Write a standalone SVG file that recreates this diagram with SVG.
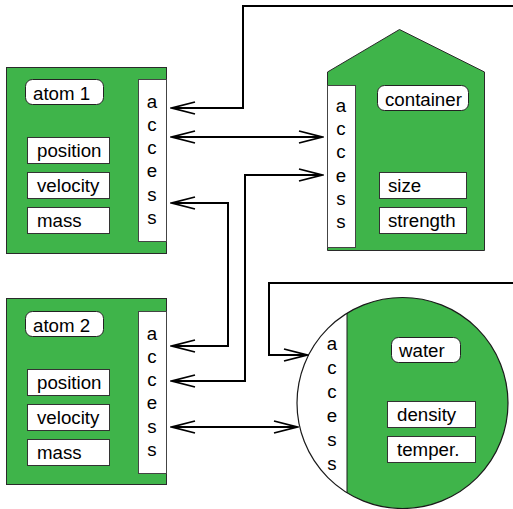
<svg xmlns="http://www.w3.org/2000/svg" width="513" height="509" viewBox="0 0 513 509">
  <style>
    .body { fill: #3fb44a; stroke: #2a2a2a; stroke-width: 1; }
    .strip { fill: #ffffff; stroke: #444444; stroke-width: 1; }
    .field { fill: #ffffff; stroke: #333333; stroke-width: 1; }
    .label { fill: #ffffff; stroke: #222222; stroke-width: 1; }
    text { font-family: "Liberation Sans", Arial, Helvetica, sans-serif; font-size: 18.7px; fill: #000000; }
    .acc { text-anchor: middle; }
    .wire { fill: none; stroke: #000000; stroke-width: 2; }
  </style>
  <defs>
    <marker id="arrow" markerUnits="userSpaceOnUse" viewBox="-26 -9 28 18" refX="0" refY="0" markerWidth="28" markerHeight="18" orient="auto-start-reverse">
      <path d="M-23,-6 L0,0 L-23,6" fill="none" stroke="#000000" stroke-width="1.8"/>
    </marker>
    <clipPath id="waterRight">
      <rect x="347" y="290" width="170" height="230"/>
    </clipPath>
  </defs>

  <!-- atom 1 -->
  <g id="atom1">
    <rect class="body" x="6.5" y="67.5" width="160" height="186"/>
    <rect class="strip" x="138.5" y="79.5" width="28" height="162"/>
    <rect class="label" x="25.5" y="79.5" width="78" height="25" rx="7"/>
    <text x="33" y="100">atom 1</text>
    <rect class="field" x="27.5" y="137.5" width="82" height="26"/>
    <text x="37" y="157">position</text>
    <rect class="field" x="27.5" y="172.5" width="82" height="26"/>
    <text x="37" y="192">velocity</text>
    <rect class="field" x="27.5" y="207.5" width="82" height="26"/>
    <text x="37" y="227">mass</text>
    <text class="acc" x="152" y="108">a</text>
    <text class="acc" x="152" y="131">c</text>
    <text class="acc" x="152" y="154">c</text>
    <text class="acc" x="152" y="177">e</text>
    <text class="acc" x="152" y="201">s</text>
    <text class="acc" x="152" y="224">s</text>
  </g>

  <!-- atom 2 -->
  <g id="atom2">
    <rect class="body" x="6.5" y="298.5" width="160" height="186"/>
    <rect class="strip" x="138.5" y="311.5" width="28" height="162"/>
    <rect class="label" x="25.5" y="311.5" width="78" height="25" rx="7"/>
    <text x="33" y="332">atom 2</text>
    <rect class="field" x="27.5" y="369.5" width="82" height="26"/>
    <text x="37" y="389">position</text>
    <rect class="field" x="27.5" y="404.5" width="82" height="26"/>
    <text x="37" y="424">velocity</text>
    <rect class="field" x="27.5" y="439.5" width="82" height="26"/>
    <text x="37" y="459">mass</text>
    <text class="acc" x="152" y="340">a</text>
    <text class="acc" x="152" y="363">c</text>
    <text class="acc" x="152" y="386">c</text>
    <text class="acc" x="152" y="409">e</text>
    <text class="acc" x="152" y="433">s</text>
    <text class="acc" x="152" y="456">s</text>
  </g>

  <!-- container -->
  <g id="container">
    <polygon class="body" points="327.5,72 399.5,29.5 484.5,72 484.5,250.5 327.5,250.5"/>
    <rect class="strip" x="327.5" y="85.5" width="28" height="162"/>
    <rect class="label" x="377.5" y="85.5" width="91" height="25" rx="7"/>
    <text x="385" y="106">container</text>
    <rect class="field" x="379.5" y="172.5" width="87" height="26"/>
    <text x="388" y="192">size</text>
    <rect class="field" x="379.5" y="207.5" width="87" height="26"/>
    <text x="388" y="227">strength</text>
    <text class="acc" x="341" y="112">a</text>
    <text class="acc" x="341" y="135">c</text>
    <text class="acc" x="341" y="158">c</text>
    <text class="acc" x="341" y="182">e</text>
    <text class="acc" x="341" y="205">s</text>
    <text class="acc" x="341" y="228">s</text>
  </g>

  <!-- water -->
  <g id="water">
    <circle cx="402.5" cy="403" r="105.5" fill="#ffffff"/>
    <circle cx="402.5" cy="403" r="105.5" fill="#3fb44a" clip-path="url(#waterRight)"/>
    <line x1="347" y1="313" x2="347" y2="493" stroke="#1a1a1a" stroke-width="1"/>
    <circle cx="402.5" cy="403" r="105.5" fill="none" stroke="#1a1a1a" stroke-width="1.2"/>
    <rect class="label" x="391.5" y="337.5" width="69" height="25" rx="7"/>
    <text x="399" y="357">water</text>
    <rect class="field" x="387.5" y="401.5" width="88" height="26"/>
    <text x="397" y="421">density</text>
    <rect class="field" x="387.5" y="436.5" width="88" height="26"/>
    <text x="397" y="456">temper.</text>
    <text class="acc" x="332" y="350">a</text>
    <text class="acc" x="332" y="374">c</text>
    <text class="acc" x="332" y="398">c</text>
    <text class="acc" x="332" y="422">e</text>
    <text class="acc" x="332" y="446">s</text>
    <text class="acc" x="332" y="470">s</text>
  </g>

  <!-- connectors -->
  <g id="connectors" class="wire">
    <path class="wire" d="M513,6 H243 V108 H172" marker-end="url(#arrow)"/>
    <path class="wire" d="M172,137 H322" marker-start="url(#arrow)" marker-end="url(#arrow)"/>
    <path class="wire" d="M322,175 H245 V381 H172" marker-start="url(#arrow)" marker-end="url(#arrow)"/>
    <path class="wire" d="M172,203 H228 V346 H172" marker-start="url(#arrow)" marker-end="url(#arrow)"/>
    <path class="wire" d="M513,283 H269 V355 H307" marker-end="url(#arrow)"/>
    <path class="wire" d="M172,427 H297" marker-start="url(#arrow)" marker-end="url(#arrow)"/>
  </g>
</svg>
